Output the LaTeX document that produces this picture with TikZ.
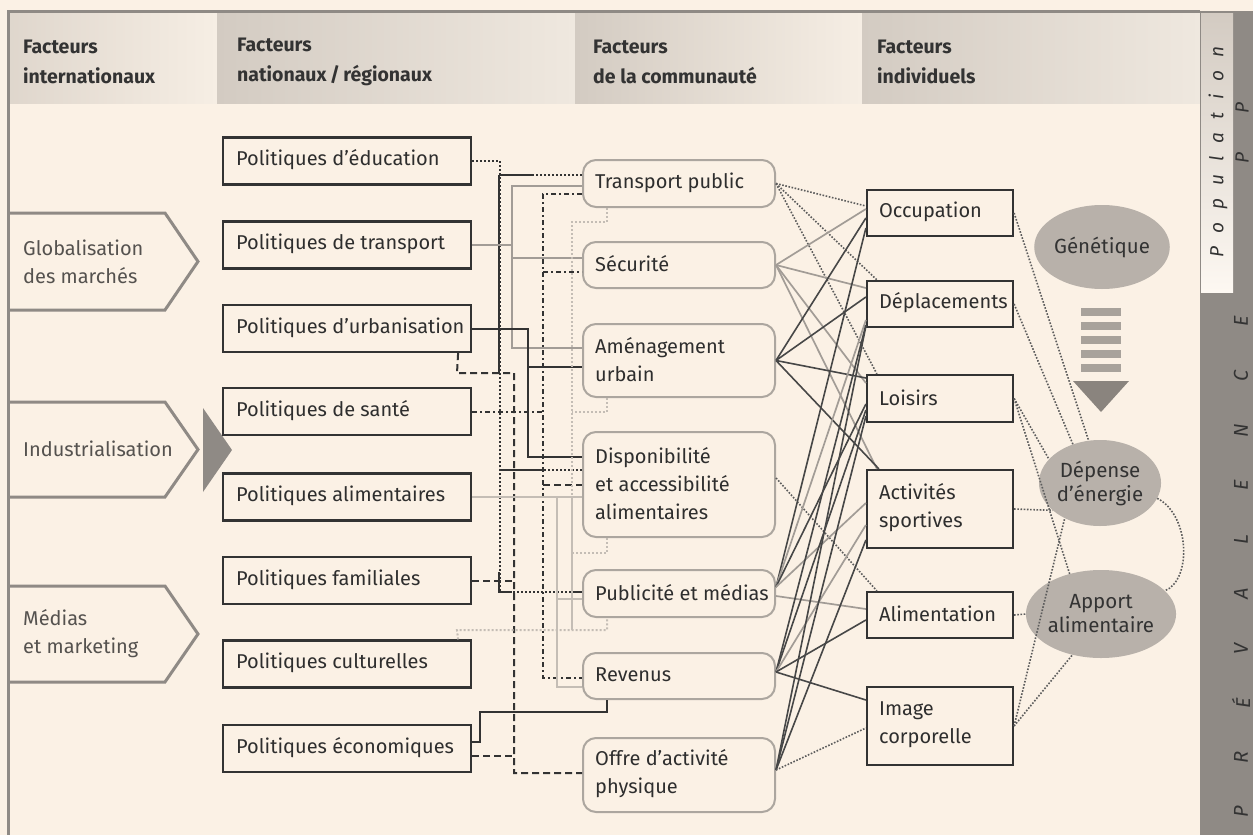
\documentclass[tikz,border=0pt]{standalone}
\usepackage{fontspec}
\setmainfont{Fira Sans}
\usetikzlibrary{shapes.geometric,calc}
\definecolor{cream}{HTML}{FBF1E5}
\definecolor{framegray}{HTML}{8F8A85}
\definecolor{txt}{HTML}{2E2E2E}
\definecolor{arrtxt}{HTML}{55524F}
\definecolor{lgray}{HTML}{C4BDB5}
\definecolor{mgray}{HTML}{A29C96}
\definecolor{dgray}{HTML}{333333}
\definecolor{ellfill}{HTML}{B8B1AA}
\definecolor{rdraw}{HTML}{ACA69F}
\definecolor{hdrA}{HTML}{D3CBC2}
\definecolor{hdrB}{HTML}{EFE8DF}
\definecolor{hdrC}{HTML}{F6EEE4}
\definecolor{barcol}{HTML}{A8A29B}
\definecolor{tricol}{HTML}{8A847E}
\begin{document}
\begin{tikzpicture}[x=1pt,y=-1pt,
  every node/.style={font=\fontsize{20}{28}\selectfont, text=txt},
  polbox/.style={draw=dgray, line width=2.2pt, fill=cream, inner sep=0pt, minimum width=248pt, minimum height=47pt},
  combox/.style={draw=rdraw, line width=2pt, fill=cream, rounded corners=13pt, inner sep=0pt, minimum width=192pt},
  indbox/.style={draw=dgray, line width=2.2pt, fill=cream, inner sep=0pt, minimum width=146pt},
  lab/.style={anchor=west, inner sep=0pt, align=left},
  ell/.style={ellipse, fill=ellfill, inner sep=0pt, align=center, font=\fontsize{20.5}{24}\selectfont, text=dgray},
  hdrtxt/.style={anchor=west, align=left, inner sep=0pt, font=\bfseries\fontsize{19.5}{30}\selectfont, text=dgray},
  arrtext/.style={anchor=west, align=left, inner sep=0pt, text=arrtxt},
  arrshape/.style={draw=framegray, line width=3pt, fill=cream, line join=miter},
  rot/.style={rotate=90, inner sep=0pt, font=\itshape\fontsize{19}{19}\selectfont, text=dgray},
  blk/.style={draw=dgray, line width=2pt},
  gry/.style={draw=mgray, line width=2pt},
  lgry/.style={draw=lgray, line width=2pt},
  dotb/.style={draw=dgray, line width=2pt, dash pattern=on 2pt off 2pt},
  dashb/.style={draw=dgray, line width=2pt, dash pattern=on 7pt off 4pt},
  dashdotb/.style={draw=dgray, line width=2pt, dash pattern=on 5pt off 3pt on 2pt off 3pt},
  dotl/.style={draw=lgray, line width=2pt, dash pattern=on 2pt off 2pt},
  wblk/.style={draw=dgray!90, line width=1.6pt},
  wgry/.style={draw=mgray, line width=1.7pt},
  wdot/.style={draw=dgray!80, line width=1.6pt, dash pattern=on 1.6pt off 1.6pt},
  rdot/.style={draw=dgray!80, line width=1.6pt, dash pattern=on 1.6pt off 1.6pt}
]
\useasboundingbox (0,0) rectangle (1253,835);
\fill[cream] (0,0) rectangle (1253,835);

% header cells
\shade[left color=hdrA!70!cream, right color=hdrC] (9,13) rectangle (217,103);
\shade[left color=hdrA, right color=hdrB] (217,13) rectangle (575,103);
\shade[left color=hdrA, right color=hdrC] (575,13) rectangle (862,103);
\shade[left color=hdrA, right color=hdrB] (862,13) rectangle (1200,103);
\node[hdrtxt] (h1) at (23,62) {Facteurs\\internationaux};
\node[hdrtxt] (h2) at (237,62) {Facteurs\\nationaux\,/\,régionaux};
\node[hdrtxt] (h3) at (593,62) {Facteurs\\de la communauté};
\node[hdrtxt] (h4) at (877,62) {Facteurs\\individuels};

% right strip
\fill[framegray] (1200,11) rectangle (1253,835);
\shade[top color=hdrA, bottom color=cream!50!white] (1201,13) rectangle (1233,292);
\node[rot] (popu) at (1218,152)
  {P\hspace{13pt}o\hspace{13pt}p\hspace{13pt}u\hspace{13pt}l\hspace{13pt}a\hspace{13pt}t\hspace{13pt}i\hspace{13pt}o\hspace{13pt}n};
\node[rot] (pp1) at (1242,158) {P};
\node[rot] (pp2) at (1242,108) {P};
\foreach \l/\yy [count=\i] in {P/812, R/757.5, É/703, V/648.5, A/594, L/539.5, E/485, N/430.5, C/376, E/321.5}
  \node[rot, font=\itshape\fontsize{20}{20}\selectfont] (prev\i) at (1241,\yy) {\l};

% frame
\draw[framegray, line width=3pt] (8,835) -- (8,11.5) -- (1200,11.5);

% left arrows
\draw[arrshape] (8,213) -- (165,213) -- (198,261.5) -- (165,310) -- (8,310);
\draw[arrshape] (8,402) -- (165,402) -- (198,449.5) -- (165,497) -- (8,497);
\draw[arrshape] (8,586) -- (165,586) -- (198,634) -- (165,682) -- (8,682);
\draw[framegray, line width=3pt] (8,200) -- (8,700);
\node[arrtext] (a1) at (23,262) {Globalisation\\des marchés};
\node[arrtext] (a2) at (23,449) {Industrialisation};
\node[arrtext] (a3) at (23,634) {Médias\\et marketing};
\fill[framegray] (203,408) -- (232,450) -- (203,492) -- cycle;

% policy boxes
\node[polbox] (pEdu) at (347,161) {};
\node[polbox] (pTra) at (347,245) {};
\node[polbox] (pUrb) at (347,328.5) {};
\node[polbox] (pSan) at (347,411.5) {};
\node[polbox] (pAli) at (347,497) {};
\node[polbox] (pFam) at (347,580.5) {};
\node[polbox] (pCul) at (347,664) {};
\node[polbox] (pEco) at (347,748.5) {};
\node[lab] (lEdu) at ($(pEdu.west)+(14,-1)$) {Politiques d’éducation};
\node[lab] (lTra) at ($(pTra.west)+(14,-1)$) {Politiques de transport};
\node[lab] (lUrb) at ($(pUrb.west)+(14,-1)$) {Politiques d’urbanisation};
\node[lab] (lSan) at ($(pSan.west)+(14,-1)$) {Politiques de santé};
\node[lab] (lAli) at ($(pAli.west)+(14,-1)$) {Politiques alimentaires};
\node[lab] (lFam) at ($(pFam.west)+(14,-1)$) {Politiques familiales};
\node[lab] (lCul) at ($(pCul.west)+(14,-1)$) {Politiques culturelles};
\node[lab] (lEco) at ($(pEco.west)+(14,-1)$) {Politiques économiques};

% community boxes
\node[combox, minimum height=47pt] (cTP) at (679,183.5) {};
\node[combox, minimum height=46pt] (cSec) at (679,265) {};
\node[combox, minimum height=73pt] (cAme) at (679,360.5) {};
\node[combox, minimum height=105pt] (cDis) at (679,484.5) {};
\node[combox, minimum height=47pt] (cPub) at (679,593.5) {};
\node[combox, minimum height=46pt] (cRev) at (679,676) {};
\node[combox, minimum height=74pt] (cOff) at (679,775) {};
\node[lab] (lTP) at ($(cTP.west)+(13,-1)$) {Transport public};
\node[lab] (lSec) at ($(cSec.west)+(13,-1)$) {Sécurité};
\node[lab] (lAme) at ($(cAme.west)+(13,-1)$) {Aménagement\\urbain};
\node[lab] (lDis) at ($(cDis.west)+(13,-1)$) {Disponibilité\\et accessibilité\\alimentaires};
\node[lab] (lPub) at ($(cPub.west)+(13,-1)$) {Publicité et médias};
\node[lab] (lRev) at ($(cRev.west)+(13,-1)$) {Revenus};
\node[lab] (lOff) at ($(cOff.west)+(13,-1)$) {Offre d’activité\\physique};

% individual boxes
\node[indbox, minimum height=46pt] (iOcc) at (940,213) {};
\node[indbox, minimum height=46pt] (iDep) at (940,304) {};
\node[indbox, minimum height=47pt] (iLoi) at (940,398.5) {};
\node[indbox, minimum height=78pt] (iAct) at (940,509) {};
\node[indbox, minimum height=46pt] (iAli) at (940,615) {};
\node[indbox, minimum height=78pt] (iImg) at (940,726) {};
\node[lab] (lOcc) at ($(iOcc.west)+(13,-1)$) {Occupation};
\node[lab] (lDep) at ($(iDep.west)+(13,-1)$) {Déplacements};
\node[lab] (lLoi) at ($(iLoi.west)+(13,-1)$) {Loisirs};
\node[lab] (lAct) at ($(iAct.west)+(13,-1)$) {Activités\\sportives};
\node[lab] (lAli) at ($(iAli.west)+(13,-1)$) {Alimentation};
\node[lab] (lImg) at ($(iImg.west)+(13,-1)$) {Image\\corporelle};

% ellipses
\node[ell, minimum width=116pt, minimum height=84pt] (gen) at (1102,247) {Génétique};
\node[ell, minimum width=114pt, minimum height=86pt] (dep) at (1100,483) {Dépense\\d’énergie};
\node[ell, minimum width=120pt, minimum height=88pt] (apo) at (1101,614) {Apport\\alimentaire};

% striped arrow
\foreach \yy in {308,322,336,350,364}
  \fill[barcol] (1081,\yy) rectangle (1121,\yy+8);
\fill[tricol] (1073,381) -- (1129,381) -- (1101,412) -- cycle;

% ---------- policy -> community connectors ----------
% education
\draw[dotb] (pEdu.east) -- (500,161) -- (500,592) -- (cPub.west |- 500,592);
\draw[dotb] (500,175) -- (cTP.west |- 500,175);
\draw[dotb] (500,470) -- (cDis.west |- 500,470);
\draw[blk] (499,175) -- (499,373);
\draw[blk] (499,175) -- (532,175);
\draw[blk] (499,470) -- (540,470);
\draw[blk] (499,572) -- (499,592) -- (512,592);
\draw[blk] (570,592) -- (cPub.west |- 570,592);
% transport
\draw[gry] (pTra.east) -- (512,245);
\draw[gry] (cTP.west |- 512,186) -- (512,186) -- (512,348) -- (cAme.west |- 512,348);
\draw[gry] (512,258) -- (cSec.west |- 512,258);
% urbanisation
\draw[blk] (pUrb.east) -- (528,328.5) -- (528,457) -- (cDis.west |- 528,457);
\draw[blk] (528,367) -- (cAme.west |- 528,367);
\draw[dashb] ($(pUrb.south east)+(-14,0)$) -- (457,373) -- (514,373) -- (514,773) -- (cOff.west |- 514,773);
% sante
\draw[dashdotb] (pSan.east) -- (543,411.5);
\draw[dashdotb] (cTP.west |- 543,194) -- (543,194) -- (543,678) -- (cRev.west |- 543,678);
\draw[dashdotb] (543,272) -- (cSec.west |- 543,272);
\draw[dashb] (543,485) -- (cDis.west |- 543,485);
% alimentaires
\draw[lgry] (pAli.east) -- (cDis.west |- 0,497);
\draw[lgry] (557,497) -- (557,687) -- (cRev.west |- 0,687);
\draw[lgry] (557,599) -- (cPub.west |- 0,599);
\draw[lgry] (572,497) -- (572,630);
% familiales
\draw[dashb] (pFam.east) -- (514,580.5);
% culturelles
\draw[dotl] ($(pCul.north east)+(-14,0)$) -- (457,630) -- (607,630) -- (cPub.south -| 607,0);
\draw[dotl] (cTP.south -| 607,0) -- (607,222) -- (572,222) -- (572,630);
\draw[dotl] (cAme.south -| 607,0) -- (607,412) -- (572,412);
\draw[dotl] (cDis.south -| 607,0) -- (607,553) -- (572,553);
% economiques
\draw[blk] (pEco.east |- 0,742) -- (480,742) -- (480,712) -- (607,712) -- (cRev.south -| 607,0);
\draw[dashb] (pEco.east |- 0,756) -- (514,756);

% ---------- community -> individual ----------
\draw[wdot] (cTP.east) -- (iOcc.west |- 0,206);
\draw[wdot] (cTP.east) -- ($(iDep.north west)+(11,0)$);
\draw[wdot] (cTP.east) -- ($(iLoi.north west)+(11,0)$);
\draw[wgry] (cSec.east) -- (iOcc.west |- 0,209);
\draw[wgry] (cSec.east) -- (iDep.west |- 0,288);
\draw[wgry] (cSec.east) -- (iLoi.west |- 0,383);
\draw[wgry] (cSec.east) -- ($(iAct.north west)+(11,0)$);
\draw[wblk] (cAme.east) -- (iOcc.west |- 0,218);
\draw[wblk] (cAme.east) -- (iDep.west |- 0,297);
\draw[wblk] (cAme.east) -- (iLoi.west |- 0,378);
\draw[wblk] (cAme.east) -- ($(iAct.north west)+(13,0)$);
\draw[wdot] (cDis.east |- 0,478) -- ($(iAli.north west)+(11,0)$);
\draw[wblk] (cPub.east |- 0,587) -- (iOcc.west |- 0,228);
\draw[wgry] (cPub.east |- 0,587) -- (iDep.west |- 0,320);
\draw[wblk] (cPub.east |- 0,587) -- (iLoi.west |- 0,404);
\draw[wgry] (cPub.east |- 0,587) -- (iAct.west |- 0,503);
\draw[wgry] (cPub.east |- 0,596) -- (iAli.west |- 0,609);
\draw[wblk] (cRev.east |- 0,672) -- (iDep.west |- 0,325);
\draw[wblk] (cRev.east |- 0,672) -- (iLoi.west |- 0,410);
\draw[wgry] (cRev.east |- 0,672) -- (iAct.west |- 0,525);
\draw[wblk] (cRev.east |- 0,672) -- (iAli.west |- 0,620);
\draw[wblk] (cRev.east |- 0,672) -- (iImg.west |- 0,700);
\draw[wblk] (cOff.east |- 0,770) -- (iLoi.west |- 0,416);
\draw[wblk] (cOff.east |- 0,770) -- (iAct.west |- 0,540);
\draw[wblk] (cOff.east |- 0,770) -- (iDep.west |- 0,326);
\draw[wdot] (cOff.east |- 0,770) -- (iImg.west |- 0,728);

% ---------- individual -> ellipses ----------
\draw[rdot] (iOcc.east) -- (dep.105);
\draw[rdot] (iDep.east) -- (dep.125);
\draw[rdot] (iLoi.east) -- (dep.155);
\draw[rdot] (iLoi.east) -- (apo.128);
\draw[rdot] (iAct.east) -- (dep.210);
\draw[rdot] (iAli.east) -- (apo.west);
\draw[rdot] (iImg.east) -- (dep.225);
\draw[rdot] (iImg.east) -- (apo.235);
\draw[rdot] (dep.345) .. controls (1190,515) and (1192,580) .. (apo.20);
\end{tikzpicture}
\end{document}
